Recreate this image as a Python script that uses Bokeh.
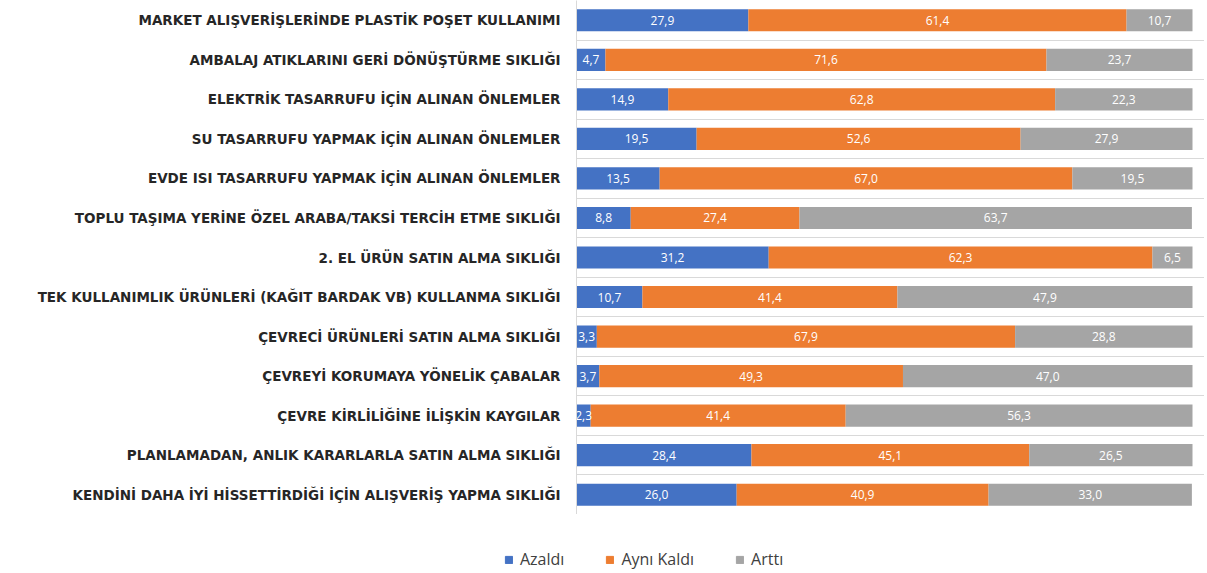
from bokeh.plotting import figure
from bokeh.models import ColumnDataSource, Range1d, FixedTicker, Legend, LegendItem
from bokeh.layouts import column
from bokeh.core.properties import value
from bokeh.embed import file_html
from bokeh.resources import INLINE

categories = [
    "MARKET ALIŞVERİŞLERİNDE PLASTİK POŞET KULLANIMI",
    "AMBALAJ ATIKLARINI GERİ DÖNÜŞTÜRME SIKLIĞI",
    "ELEKTRİK TASARRUFU İÇİN ALINAN ÖNLEMLER",
    "SU TASARRUFU YAPMAK İÇİN ALINAN ÖNLEMLER",
    "EVDE ISI TASARRUFU YAPMAK İÇİN ALINAN ÖNLEMLER",
    "TOPLU TAŞIMA YERİNE ÖZEL ARABA/TAKSİ TERCİH ETME SIKLIĞI",
    "2. EL ÜRÜN SATIN ALMA SIKLIĞI",
    "TEK KULLANIMLIK ÜRÜNLERİ (KAĞIT BARDAK VB) KULLANMA SIKLIĞI",
    "ÇEVRECİ ÜRÜNLERİ SATIN ALMA SIKLIĞI",
    "ÇEVREYİ KORUMAYA YÖNELİK ÇABALAR",
    "ÇEVRE KİRLİLİĞİNE İLİŞKİN KAYGILAR",
    "PLANLAMADAN, ANLIK KARARLARLA SATIN ALMA SIKLIĞI",
    "KENDİNİ DAHA İYİ HİSSETTİRDİĞİ İÇİN ALIŞVERİŞ YAPMA SIKLIĞI",
]
azaldi = [27.9, 4.7, 14.9, 19.5, 13.5, 8.8, 31.2, 10.7, 3.3, 3.7, 2.3, 28.4, 26.0]
ayni_kaldi = [61.4, 71.6, 62.8, 52.6, 67.0, 27.4, 62.3, 41.4, 67.9, 49.3, 41.4, 45.1, 40.9]
artti = [10.7, 23.7, 22.3, 27.9, 19.5, 63.7, 6.5, 47.9, 28.8, 47.0, 56.3, 26.5, 33.0]
series_labels = ["Azaldı", "Aynı Kaldı", "Arttı"]
colors = ["#4472C4", "#ED7D31", "#A5A5A5"]

n = len(categories)
ys = list(range(n))
source = ColumnDataSource(dict(y=ys, azaldi=azaldi, ayni=ayni_kaldi, artti=artti))

W = 1204
LEFT = 576
x_end = (W - LEFT) / 616.0 * 100.0

p = figure(width=W, height=514, output_backend="svg", toolbar_location=None,
           x_range=Range1d(0, x_end), y_range=Range1d(n - 0.5, -0.5),
           min_border_left=LEFT, min_border_right=0, min_border_top=0, min_border_bottom=0)
p.outline_line_color = None
p.xaxis.visible = False
p.xgrid.visible = False

p.hbar_stack(["azaldi", "ayni", "artti"], y="y", height=0.56, color=colors,
             line_color=None, source=source)

# data labels
fmt = lambda v: ("%.1f" % v).replace(".", ",")
lab_x, lab_y, lab_t = [], [], []
for i in range(n):
    left = 0.0
    for vals in (azaldi, ayni_kaldi, artti):
        v = vals[i]
        lab_x.append(left + v / 2.0)
        lab_y.append(i)
        lab_t.append(fmt(v))
        left += v
p.text(x=lab_x, y=lab_y, text=lab_t, text_align="center", text_baseline="middle",
       text_color="white", text_font_size="12px", text_font=value("Open Sans"))

yaxis = p.yaxis[0]
yaxis.ticker = FixedTicker(ticks=ys)
yaxis.major_label_overrides = {i: c for i, c in enumerate(categories)}
yaxis.major_tick_line_color = None
yaxis.minor_tick_line_color = None
yaxis.axis_line_color = "#D9D9D9"
yaxis.major_label_standoff = 10
yaxis.major_label_text_font = "DejaVu Sans"
yaxis.major_label_text_font_style = "bold"
yaxis.major_label_text_font_size = "13.5px"
yaxis.major_label_text_color = "#262626"

p.ygrid[0].ticker = FixedTicker(ticks=[i - 0.5 for i in range(n + 1)])
p.ygrid[0].grid_line_color = "#D9D9D9"
p.ygrid[0].grid_line_width = 1

# legend figure, full width frame (not aligned with main frame)
lf = figure(width=W, height=56, output_backend="svg", toolbar_location=None,
            x_axis_type=None, y_axis_type=None, x_range=Range1d(0, 1), y_range=Range1d(0, 1),
            min_border_left=0, min_border_right=0, min_border_top=0, min_border_bottom=0)
lf.frame_align = False
lf.outline_line_color = None
lf.grid.visible = False
items = []
for lab, c in zip(series_labels, colors):
    # dummy glyph outside the visible range, only used for the legend swatch
    r = lf.quad(left=[5], right=[6], top=[6], bottom=[5], fill_color=c, line_color=c)
    items.append(LegendItem(label=lab, renderers=[r]))
legend = Legend(items=items, orientation="horizontal", location=(504, 0),
                glyph_width=9, glyph_height=9, label_standoff=7, spacing=41,
                padding=0, margin=0, border_line_color=None, background_fill_alpha=0,
                label_text_font="Open Sans", label_text_font_size="16px",
                label_text_color="#404040")
lf.add_layout(legend)

layout = column(p, lf, spacing=0)
open("out.html", "w").write(file_html(layout, INLINE))
